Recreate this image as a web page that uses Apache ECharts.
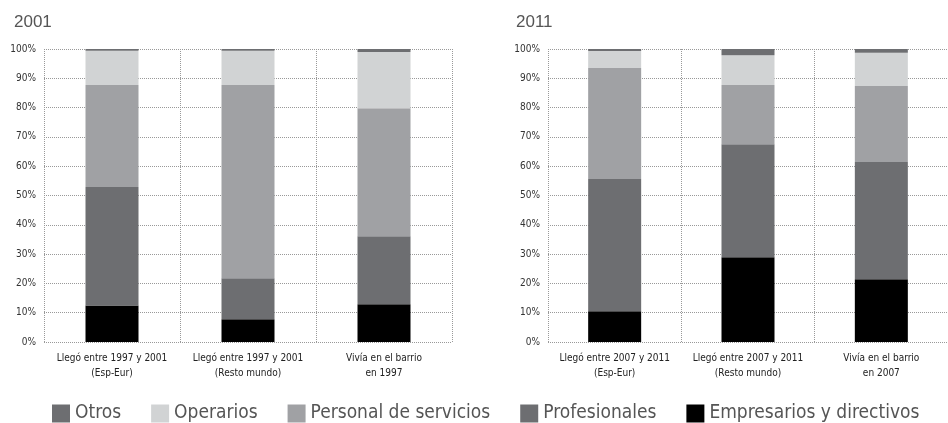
<!DOCTYPE html>
<html><head><meta charset="utf-8">
<script src="https://cdn.jsdelivr.net/npm/echarts@6/dist/echarts.min.js"></script>
<style>html,body{margin:0;padding:0;background:#fff}#c{width:948px;height:423px}</style>
</head><body><div id="c"></div>
<script>
const seriesNames = ['Otros','Operarios','Personal de servicios','Profesionales','Empresarios y directivos'];
const seriesColors = ['#6d6e71','#d1d3d4','#a0a1a4','#6d6e71','#000000'];
const cats2001 = ['Llegó entre 1997 y 2001\n(Esp-Eur)','Llegó entre 1997 y 2001\n(Resto mundo)','Vivía en el barrio\nen 1997'];
const cats2011 = ['Llegó entre 2007 y 2011\n(Esp-Eur)','Llegó entre 2007 y 2011\n(Resto mundo)','Vivía en el barrio\nen 2007'];
const yTicks = [0,10,20,30,40,50,60,70,80,90,100];
// stacking order bottom -> top
const emp2001 = [12.5, 7.8, 12.9];
const prof2001 = [40.4, 14.0, 23.2];
const pers2001 = [34.8, 65.9, 43.7];
const oper2001 = [11.7, 11.7, 19.2];
const otros2001 = [0.6, 0.6, 1.0];
const emp2011 = [10.5, 28.9, 21.4];
const prof2011 = [45.1, 38.6, 40.0];
const pers2011 = [37.9, 20.2, 26.0];
const oper2011 = [5.8, 10.2, 11.3];
const otros2011 = [0.7, 2.1, 1.3];

const narrow = '"DejaVu Sans Condensed","Liberation Sans Narrow",sans-serif';
const chart = echarts.init(document.getElementById('c'), null, {renderer:'canvas'});
const grids = [
  {left:44, top:49, width:408, height:293},
  {left:548, top:49, width:409, height:293}
];
function xAxis(i, cats){
  return {type:'category', gridIndex:i, data:cats,
    axisLine:{show:false}, axisTick:{show:false},
    splitLine:{show:true, lineStyle:{color:'#999', type:[1,1], width:1}},
    axisLabel:{fontFamily:narrow, fontSize:10, color:'#222', lineHeight:15, margin:9, interval:0}};
}
function yAxis(i){
  return {type:'value', gridIndex:i, min:0, max:100, interval:10,
    axisLine:{show:false}, axisTick:{show:false},
    splitLine:{show:true, lineStyle:{color:'#999', type:[1,1], width:1}},
    axisLabel:{fontFamily:narrow, fontSize:10, color:'#333', margin:8, formatter: v => yTicks.includes(v) ? v + '%' : ''}};
}
const data2001 = [emp2001, prof2001, pers2001, oper2001, otros2001];
const data2011 = [emp2011, prof2011, pers2011, oper2011, otros2011];
const order = [4,3,2,1,0]; // index into seriesNames for bottom->top
const series = [];
[data2001, data2011].forEach((dset, g) => {
  dset.forEach((vals, k) => {
    const ni = order[k];
    series.push({name:seriesNames[ni], type:'bar', stack:'s'+g, xAxisIndex:g, yAxisIndex:g,
      barWidth:53, data:vals, itemStyle:{color:seriesColors[ni]}, silent:true});
  });
});
chart.setOption({
  animation:false,
  title:[
    {text:'2001', left:9, top:9, textStyle:{fontFamily:'"Liberation Sans",Arial,sans-serif', fontSize:17, fontWeight:'normal', color:'#555'}},
    {text:'2011', left:511, top:9, textStyle:{fontFamily:'"Liberation Sans",Arial,sans-serif', fontSize:17, fontWeight:'normal', color:'#555'}}
  ],
  legend:{data:seriesNames, left:47, top:399, itemWidth:18, itemHeight:18, itemGap:30, icon:'rect',
    textStyle:{fontFamily:narrow, fontSize:19, color:'#555'}, selectedMode:false},
  grid:grids,
  xAxis:[xAxis(0,cats2001), xAxis(1,cats2011)],
  yAxis:[yAxis(0), yAxis(1)],
  series:series
});
</script></body></html>
